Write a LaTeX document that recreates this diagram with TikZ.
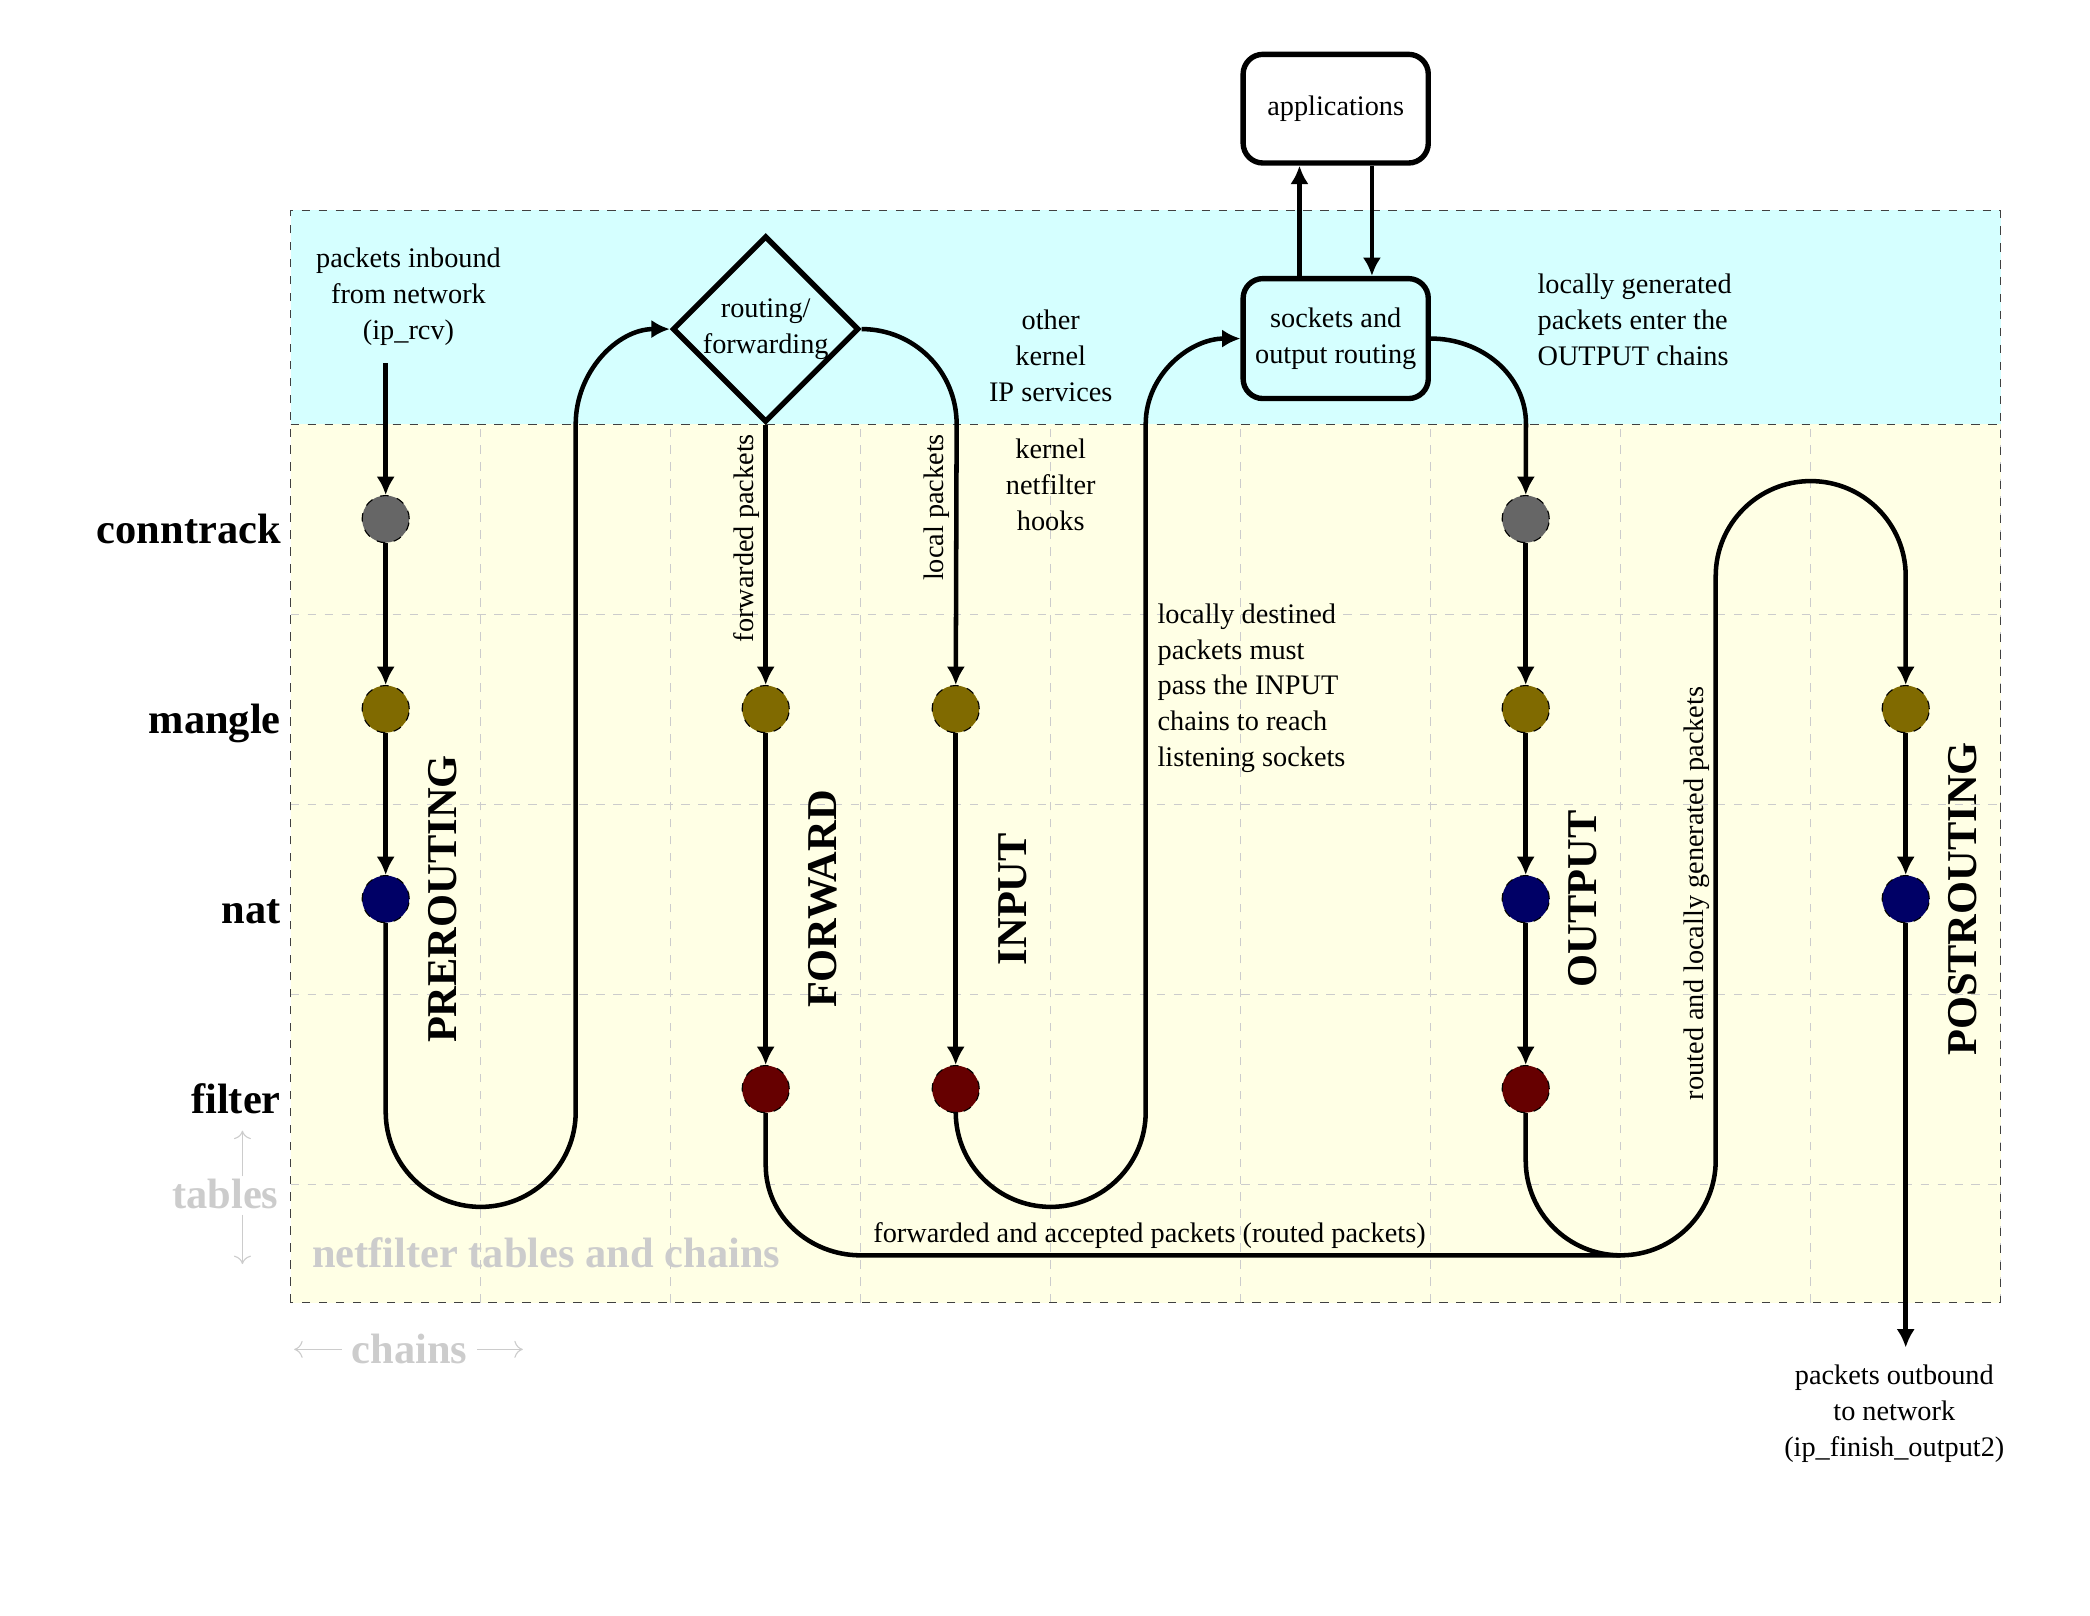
\documentclass[tikz,border=0pt]{standalone}
\usepackage{fontspec}
\setmainfont{Liberation Serif}
\usetikzlibrary{shapes.geometric,arrows.meta}

\definecolor{kernelcol}{RGB}{213,255,255}
\definecolor{tablecol}{RGB}{255,255,229}
\definecolor{colconn}{RGB}{102,102,102}
\definecolor{colmangle}{RGB}{128,106,0}
\definecolor{colnat}{RGB}{0,0,102}
\definecolor{colfilter}{RGB}{102,0,0}
\definecolor{hintcol}{RGB}{204,204,204}

\begin{document}
\begin{tikzpicture}[x=2.36cm,y=2.36cm]
	\tikzset{
		flow/.style={line width=1.6pt,-{Latex[length=6.5pt,width=6.5pt]}},
		wire/.style={line width=1.6pt},
		hooknode/.style={circle,draw=black,thin,dashed,minimum size=0.585cm,inner sep=0pt},
		txt/.style={font=\fontsize{10}{12.7}\selectfont,align=center},
		box/.style={txt,draw,line width=1.9pt,rounded corners=7pt,minimum width=2.3cm},
		decision/.style={txt,diamond,draw,line width=1.9pt,aspect=1,minimum size=2.3cm,inner sep=0pt},
		bigtxt/.style={font=\fontsize{15}{18}\selectfont\bfseries},
		hint/.style={bigtxt,text=hintcol},
		hintarrow/.style={hintcol,thin,-{To[length=3pt,width=6pt]}}
	}
	\useasboundingbox (-1.53,-6.268) rectangle (9.47,2.232);
	
	% background of kernel part and netfilter part
	\fill[kernelcol] (0,0) rectangle (9,1.125);
	\fill[tablecol] (0,-4.625) rectangle (9,0);
	
	% Draw the grid
	\draw[hintcol,thin,dashed,step=2.36cm] (0,-4.625) grid (9,0);
	\draw[black!75,thin,dashed] (0,-4.625) rectangle (9,1.125);
	\draw[black!75,thin,dashed] (0,0) -- (9,0);
	
	% hooks of the chains
	\foreach \t/\y in {conn/-0.5,mangle/-1.5,nat/-2.5}
		\node[hooknode,fill=col\t] (pre\t) at (0.5,\y) {};
	\foreach \t/\y in {mangle/-1.5,filter/-3.5} {
		\node[hooknode,fill=col\t] (fwd\t) at (2.5,\y) {};
		\node[hooknode,fill=col\t] (in\t) at (3.5,\y) {};
	}
	\foreach \t/\y in {conn/-0.5,mangle/-1.5,nat/-2.5,filter/-3.5}
		\node[hooknode,fill=col\t] (out\t) at (6.5,\y) {};
	\foreach \t/\y in {mangle/-1.5,nat/-2.5}
		\node[hooknode,fill=col\t] (post\t) at (8.5,\y) {};
	
	% table names
	\foreach \t/\y in {conntrack/-0.5,mangle/-1.5,nat/-2.5,filter/-3.5}
		\node[bigtxt,anchor=base east] (tab\t) at (0,\y-0.126) {\t};
	
	% chain names
	\foreach \x/\c in {0.8/PREROUTING,2.8/FORWARD,3.8/INPUT,6.8/OUTPUT,8.8/POSTROUTING}
		\node[bigtxt,rotate=90] (chain\c) at (\x,-2.5) {\c};
	
	% routing and sockets
	\node[decision] (route) at (2.5,0.5) {routing/\\forwarding};
	\node[box,minimum height=1.49cm] (sock) at (5.5,0.45) {sockets and\\output routing};
	\node[box,minimum height=1.35cm] (app) at (5.5,1.66) {applications};
	
	% draw label
	\node[txt] (inlabel) at (0.62,0.67) {packets inbound\\from network\\(ip\_rcv)};
	\node[txt] (kernlabel) at (4,0.36) {other\\kernel\\IP services};
	\node[txt] (hooklabel) at (4,-0.32) {kernel\\netfilter\\hooks};
	\node[txt,align=left,anchor=west] (destlabel) at (4.51,-1.39) {locally destined\\packets must\\pass the INPUT\\chains to reach\\listening sockets};
	\node[txt,align=left,anchor=west] (genlabel) at (6.51,0.55) {locally generated\\packets enter the\\OUTPUT chains};
	\node[txt,rotate=90,anchor=east] (fwdlabel) at (2.4,0) {forwarded packets};
	\node[txt,rotate=90,anchor=east] (loclabel) at (3.4,0) {local packets};
	\node[txt,rotate=90] (routedlabel) at (7.4,-2.47) {routed and locally generated packets};
	\node[txt] (outlabel) at (8.44,-5.21) {packets outbound\\to network\\(ip\_finish\_output2)};
	
	% hints in light gray
	\node[hint,anchor=base west] (nflabel) at (0.06,-4.44) {netfilter tables and chains};
	\node[hint] (tables) at (-0.344,-4.05) {tables};
	\node[hint] (chains) at (0.625,-4.87) {chains};
	\draw[hintarrow] ([shift={(0.09,-0.04)}]tables.north) -- ++(0,0.24);
	\draw[hintarrow] ([shift={(0.09,0.02)}]tables.south) -- ++(0,-0.26);
	\draw[hintarrow] (chains.west) -- ++(-0.25,0);
	\draw[hintarrow] (chains.east) -- ++(0.24,0);
	
	% packets in and out
	\coordinate (inbound) at (0.5,0.32);
	\coordinate (outbound) at (8.5,-4.86);
	
	% flows through the hooks
	\foreach \a/\b in {preconn/premangle,premangle/prenat,fwdmangle/fwdfilter,inmangle/infilter,outconn/outmangle,outmangle/outnat,outnat/outfilter,postmangle/postnat}
		\draw[flow] (\a) -- (\b);
	\draw[flow] (inbound) -- (preconn);
	\draw[flow] (postnat) -- (outbound);
	
	% prerouting to routing decision
	\draw[flow] (prenat) -- ++(0,-1.12) arc[start angle=180,end angle=360,radius=0.5] -- ++(0,3.62) to[out=90,in=180] (route.west);
	\draw[flow] (route.south) -- (fwdmangle);
	\draw[flow] (route.east) to[out=0,in=90] ++(0.5,-0.5) -- (inmangle);
	
	% input to sockets, sockets to output
	\draw[flow] (infilter) -- ++(0,-0.12) arc[start angle=180,end angle=360,radius=0.5] -- ++(0,3.62) to[out=90,in=180] (sock.west);
	\draw[flow] (sock.east) to[out=0,in=90] ++(0.5,-0.45) -- (outconn);
	\draw[flow] ([xshift=-0.45cm]sock.north) -- ([xshift=-0.45cm]app.south);
	\draw[flow] ([xshift=0.45cm]app.south) -- ([xshift=0.45cm]sock.north);
	
	% output and forward to postrouting
	\draw[flow] (outfilter) -- ++(0,-0.375) arc[start angle=180,end angle=270,radius=0.5] coordinate (merge) arc[start angle=270,end angle=360,radius=0.5] -- ++(0,3.075) arc[start angle=180,end angle=0,radius=0.5] -- (postmangle);
	\draw[wire] (fwdfilter) -- ++(0,-0.4) to[out=-90,in=180] ++(0.5,-0.475) -- node[txt,above,inner sep=1.5pt,pos=0.38] (routedfwd) {forwarded and accepted packets (routed packets)} (merge);
\end{tikzpicture}
\end{document}
